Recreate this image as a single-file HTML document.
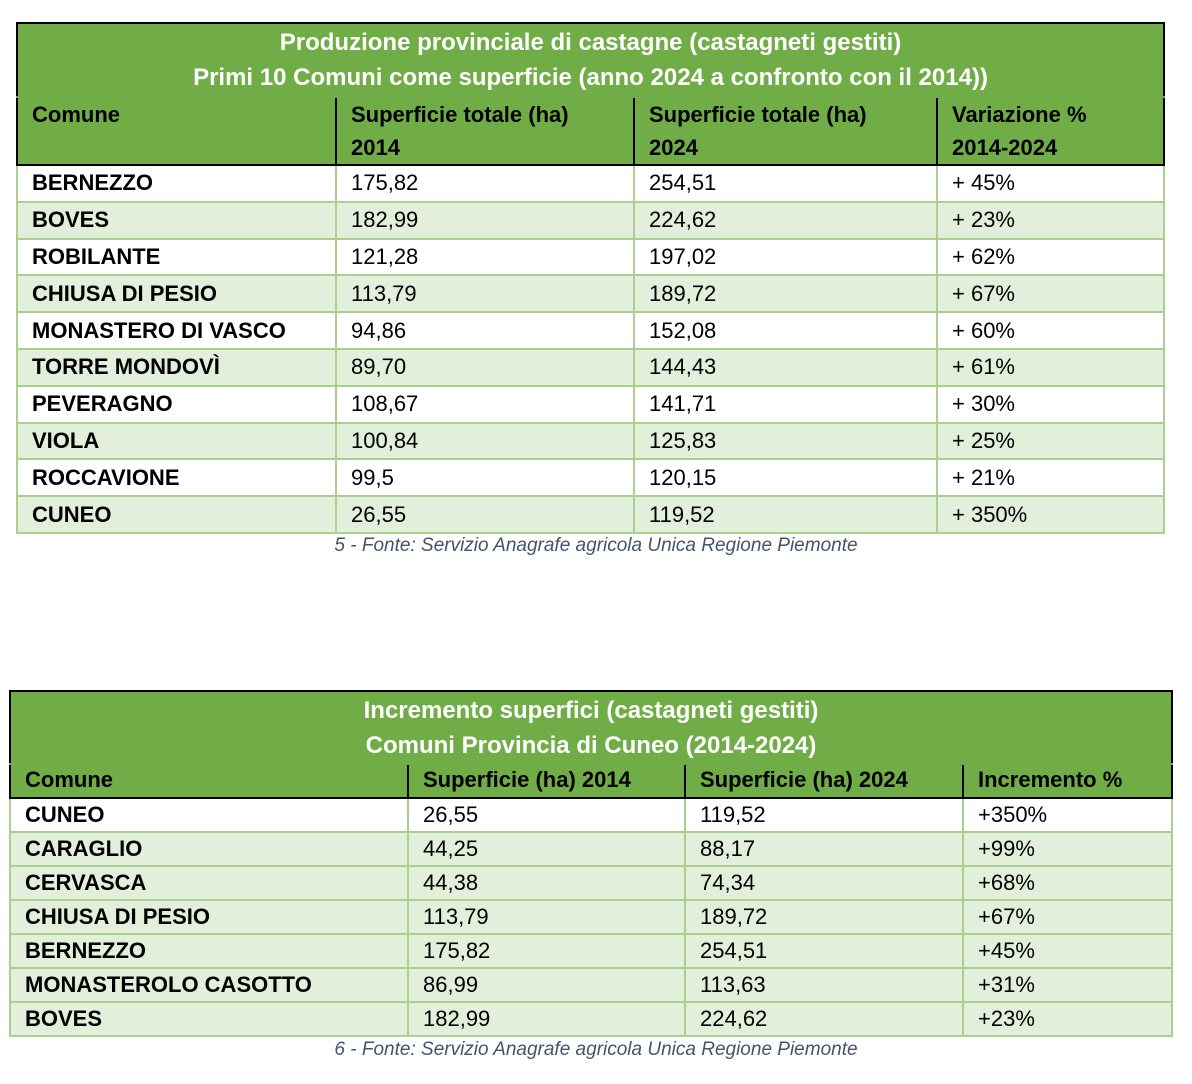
<!DOCTYPE html>
<html><head><meta charset="utf-8"><style>
body{margin:0;width:1192px;height:1084px;background:#fff;position:relative;font-family:"Liberation Sans",sans-serif;overflow:hidden}
table{position:absolute;border-collapse:collapse;table-layout:fixed}
td{padding:0 0 0 14px;font-size:22px;color:#000;border:2px solid #a9d08e;white-space:nowrap;overflow:hidden;box-sizing:border-box}
td.n{font-weight:bold}
tr.a td{background:#e2efda}
.tt td{background:#70ad47;color:#fff;font-weight:bold;font-size:24px;text-align:center;border:2px solid #70ad47;border-top:2px solid #000;border-left:2px solid #000;border-right:2px solid #000;padding:0;line-height:35px}
.hd td{background:#70ad47;font-weight:bold;border:2px solid #000;vertical-align:top;line-height:33px}
.cap{position:absolute;font-style:italic;color:#44546a;font-size:19px;width:1192px;text-align:center;left:0}
</style></head><body>
<table style="left:16px;top:22px;width:1147px">
<colgroup><col style="width:319px"><col style="width:298px"><col style="width:303px"><col style="width:227px"></colgroup>
<tr class="tt"><td colspan="4" style="height:74px">Produzione provinciale di castagne (castagneti gestiti)<br>Primi 10 Comuni come superficie (anno 2024 a confronto con il 2014))</td></tr>
<tr class="hd" style="height:65px"><td>Comune</td><td>Superficie totale (ha)<br>2014</td><td>Superficie totale (ha)<br>2024</td><td>Variazione %<br>2014-2024</td></tr>
<tr style="height:36.8px"><td class="n">BERNEZZO</td><td>175,82</td><td>254,51</td><td>+ 45%</td></tr>
<tr class="a" style="height:36.8px"><td class="n">BOVES</td><td>182,99</td><td>224,62</td><td>+ 23%</td></tr>
<tr style="height:36.8px"><td class="n">ROBILANTE</td><td>121,28</td><td>197,02</td><td>+ 62%</td></tr>
<tr class="a" style="height:36.8px"><td class="n">CHIUSA DI PESIO</td><td>113,79</td><td>189,72</td><td>+ 67%</td></tr>
<tr style="height:36.8px"><td class="n">MONASTERO DI VASCO</td><td>94,86</td><td>152,08</td><td>+ 60%</td></tr>
<tr class="a" style="height:36.8px"><td class="n">TORRE MONDOVÌ</td><td>89,70</td><td>144,43</td><td>+ 61%</td></tr>
<tr style="height:36.8px"><td class="n">PEVERAGNO</td><td>108,67</td><td>141,71</td><td>+ 30%</td></tr>
<tr class="a" style="height:36.8px"><td class="n">VIOLA</td><td>100,84</td><td>125,83</td><td>+ 25%</td></tr>
<tr style="height:36.8px"><td class="n">ROCCAVIONE</td><td>99,5</td><td>120,15</td><td>+ 21%</td></tr>
<tr class="a" style="height:36.8px"><td class="n">CUNEO</td><td>26,55</td><td>119,52</td><td>+ 350%</td></tr>
</table>
<div class="cap" style="top:535px">5 - Fonte: Servizio Anagrafe agricola Unica Regione Piemonte</div>
<table style="left:9px;top:690px;width:1162px">
<colgroup><col style="width:398px"><col style="width:277px"><col style="width:278px"><col style="width:209px"></colgroup>
<tr class="tt"><td colspan="4" style="height:73px">Incremento superfici (castagneti gestiti)<br>Comuni Provincia di Cuneo (2014-2024)</td></tr>
<tr class="hd" style="height:34px"><td style="line-height:30px">Comune</td><td style="line-height:30px">Superficie (ha) 2014</td><td style="line-height:30px">Superficie (ha) 2024</td><td style="line-height:30px">Incremento %</td></tr>
<tr style="height:34px"><td class="n">CUNEO</td><td>26,55</td><td>119,52</td><td>+350%</td></tr>
<tr class="a" style="height:34px"><td class="n">CARAGLIO</td><td>44,25</td><td>88,17</td><td>+99%</td></tr>
<tr class="a" style="height:34px"><td class="n">CERVASCA</td><td>44,38</td><td>74,34</td><td>+68%</td></tr>
<tr class="a" style="height:34px"><td class="n">CHIUSA DI PESIO</td><td>113,79</td><td>189,72</td><td>+67%</td></tr>
<tr class="a" style="height:34px"><td class="n">BERNEZZO</td><td>175,82</td><td>254,51</td><td>+45%</td></tr>
<tr class="a" style="height:34px"><td class="n">MONASTEROLO CASOTTO</td><td>86,99</td><td>113,63</td><td>+31%</td></tr>
<tr class="a" style="height:34px"><td class="n">BOVES</td><td>182,99</td><td>224,62</td><td>+23%</td></tr>
</table>
<div class="cap" style="top:1039px">6 - Fonte: Servizio Anagrafe agricola Unica Regione Piemonte</div>
</body></html>
